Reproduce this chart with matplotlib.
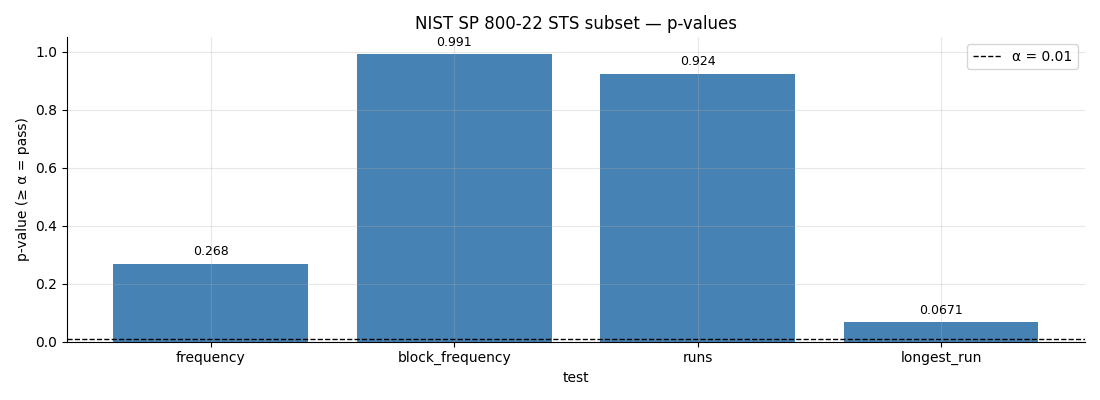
import matplotlib
matplotlib.use("Agg")
import matplotlib.pyplot as plt

tests = ["frequency", "block_frequency", "runs", "longest_run"]
pvalues = [0.268, 0.991, 0.924, 0.0671]
alpha = 0.01

fig, ax = plt.subplots(figsize=(11, 4), dpi=100)
bars = ax.bar(tests, pvalues, color="steelblue", width=0.8)
ax.axhline(alpha, color="black", linestyle="--", linewidth=1, label="α = 0.01")
for rect, v in zip(bars, pvalues):
    ax.annotate(f"{v:.3g}", (rect.get_x() + rect.get_width() / 2, v),
                xytext=(0, 4), textcoords="offset points",
                ha="center", va="bottom", fontsize=9)
ax.set_ylim(0, 1.05)
ax.set_xlabel("test")
ax.set_ylabel("p-value (≥ α = pass)")
ax.set_title("NIST SP 800-22 STS subset — p-values")
ax.grid(True, alpha=0.3)
ax.spines["top"].set_visible(False)
ax.spines["right"].set_visible(False)
ax.legend(loc="upper right")
fig.subplots_adjust(left=0.061, right=0.986, top=0.907, bottom=0.146)
fig.savefig("out.png")
